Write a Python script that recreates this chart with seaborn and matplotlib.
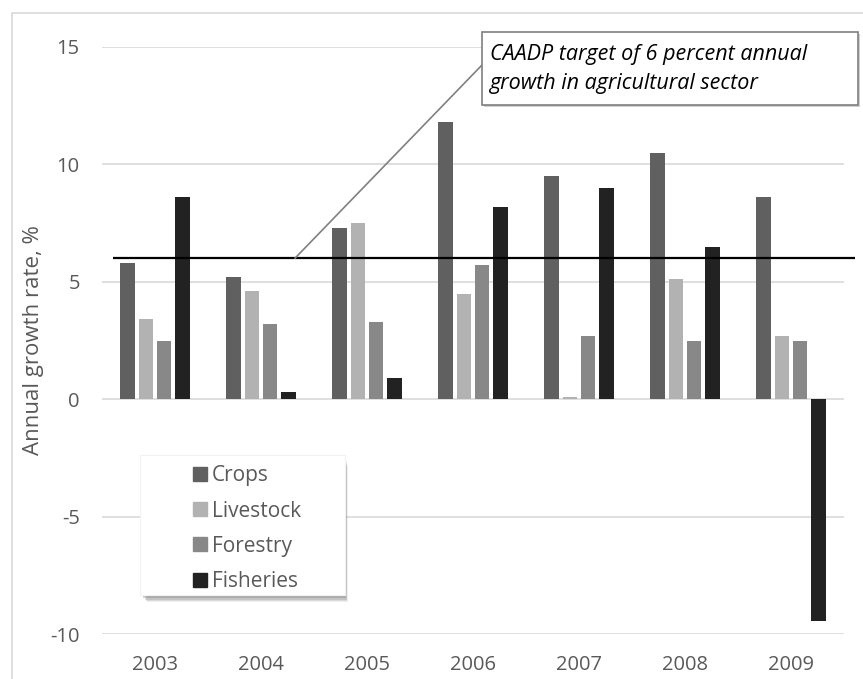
import pandas as pd
import numpy as np
import matplotlib
matplotlib.use('Agg')
import matplotlib.pyplot as plt
import seaborn as sns
from matplotlib.patches import Rectangle, ConnectionPatch
from matplotlib.lines import Line2D

years = ['2003', '2004', '2005', '2006', '2007', '2008', '2009']
crops = [5.8, 5.2, 7.3, 11.8, 9.5, 10.5, 8.6]
livestock = [3.4, 4.6, 7.5, 4.5, 0.1, 5.1, 2.7]
forestry = [2.5, 3.2, 3.3, 5.7, 2.7, 2.5, 2.5]
fisheries = [8.6, 0.3, 0.9, 8.2, 9.0, 6.5, -9.45]
sectors = ['Crops', 'Livestock', 'Forestry', 'Fisheries']
colors = ['#606060', '#b2b2b2', '#888888', '#222222']
target = 6
note = 'CAADP target of 6 percent annual\ngrowth in agricultural sector'

df = pd.DataFrame({'year': years * 4,
                   'sector': np.repeat(sectors, len(years)),
                   'rate': crops + livestock + forestry + fisheries})

sns.set_style('white')
plt.rcParams['font.family'] = ['Open Sans', 'DejaVu Sans']
txt = '#595959'

W, H = 863, 679
fig = plt.figure(figsize=(W / 100, H / 100), dpi=100)
ax = fig.add_axes([102 / W, 1 - 634 / H, (844 - 102) / W, (634 - 47) / H])

sns.barplot(data=df, x='year', y='rate', hue='sector', hue_order=sectors,
            palette=colors, width=0.68, gap=0.17, ax=ax, legend=False,
            edgecolor='none', zorder=3)

ax.set_ylim(-10, 15)
ax.set_xlim(-0.5, 6.5)
ax.set_yticks([-10, -5, 0, 5, 10, 15])
ax.set_yticklabels(['-10', '-5', '0', '5', '10', '15'])
ax.grid(axis='y', color='#d9d9d9', linewidth=1.2, zorder=0)
ax.set_axisbelow(True)
for s in ax.spines.values():
    s.set_visible(False)
ax.tick_params(axis='both', length=0, labelsize=14.5, labelcolor=txt)
ax.tick_params(axis='y', pad=16)
ax.tick_params(axis='x', pad=15)
ax.set_xlabel('')
ax.set_ylabel('Annual growth rate, %', fontsize=16, color=txt)
ax.yaxis.set_label_coords(-0.078, 0.5)

# target line
ax.hlines(target, -0.4, 6.6, color='black', linewidth=1.6, zorder=5, clip_on=False)

# callout box
fig.add_artist(Rectangle((484 / W, 1 - 107 / H), 376 / W, 73 / H, transform=fig.transFigure,
                         facecolor='#d0d0d0', edgecolor='none', zorder=9))
fig.add_artist(Rectangle((482 / W, 1 - 105 / H), 376 / W, 73 / H, transform=fig.transFigure,
                         facecolor='white', edgecolor='#7f7f7f', linewidth=1.2, zorder=10))
fig.text(490 / W, 1 - 69 / H, note, fontsize=15.5, style='italic', color='black',
         va='center', ha='left', linespacing=1.5, zorder=11)
con = ConnectionPatch(xyA=(1.32, target), coordsA=ax.transData,
                      xyB=(482 / W, 1 - 65 / H), coordsB=fig.transFigure,
                      color='#808080', linewidth=1.2, zorder=8)
fig.add_artist(con)

# legend box with soft shadow
for i, a in enumerate([0.12, 0.18, 0.25, 0.35]):
    off = 7 - i * 1.2
    fig.add_artist(Rectangle(((140 + off) / W, 1 - (595 + off) / H), (205 - off * 0.6) / W,
                             (140 - off * 0.6) / H, transform=fig.transFigure,
                             facecolor='#808080', edgecolor='none', alpha=a, zorder=6))
fig.add_artist(Rectangle((140 / W, 1 - 595 / H), 205 / W, 140 / H, transform=fig.transFigure,
                         facecolor='white', edgecolor='#f2f2f2', linewidth=0.8, zorder=7))
handles = [Line2D([], [], marker='s', linestyle='none', markersize=10, color=c) for c in colors]
leg = fig.legend(handles, sectors, loc='upper left', bbox_to_anchor=(182 / W, 1 - 455 / H),
                 frameon=False, fontsize=15, labelcolor=txt, handlelength=0.7,
                 handletextpad=0.25, labelspacing=0.68, borderpad=0)
leg.set_zorder(12)

# outer chart border
fig.add_artist(Rectangle((12 / W, -0.1), 2, 1 - 13 / H + 0.1, transform=fig.transFigure,
                         fill=False, edgecolor='#d9d9d9', linewidth=1.2))

fig.savefig('out.png', dpi=100)
